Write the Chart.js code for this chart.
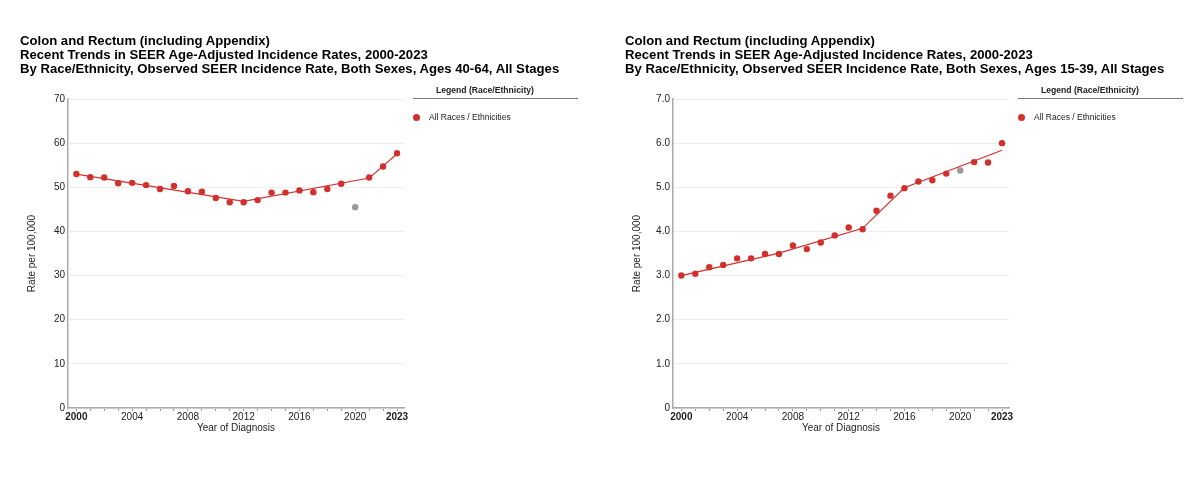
<!DOCTYPE html>
<html>
<head>
<meta charset="utf-8">
<script src="https://cdn.jsdelivr.net/npm/chart.js@4/dist/chart.umd.min.js"></script>
<style>
  html, body { margin: 0; padding: 0; background: #fff; overflow: hidden; }
  body { width: 1200px; height: 495px; position: relative; font-family: "Liberation Sans", Arial, Helvetica, sans-serif; }
  .panel { position: absolute; top: 0; width: 600px; height: 495px; }
  .panel canvas { position: absolute; left: 0; top: 0; }
  .title { position: absolute; left: 20px; top: 33.5px; font-size: 13.15px; line-height: 14px; font-weight: bold; color: #000; white-space: nowrap; }
  .legend-title { position: absolute; left: 436px; top: 84.5px; font-size: 8.6px; font-weight: bold; color: #222; white-space: nowrap; }
  .legend-rule { position: absolute; left: 413px; top: 98px; width: 165px; border-top: 1.5px solid #777; }
  .legend-item { position: absolute; left: 413px; top: 111.5px; font-size: 8.5px; color: #222; white-space: nowrap; }
  .legend-item .dot { display: inline-block; width: 7px; height: 7px; border-radius: 50%; background: #d1302c; vertical-align: -1px; margin-right: 9px; }
</style>
</head>
<body>

<div class="panel" style="left:0">
  <canvas id="chart4064"></canvas>
  <div class="title">Colon and Rectum (including Appendix)<br>Recent Trends in SEER Age-Adjusted Incidence Rates, 2000-2023<br>By Race/Ethnicity, Observed SEER Incidence Rate, Both Sexes, Ages 40-64, All Stages</div>
  <div class="legend-title">Legend (Race/Ethnicity)</div>
  <div class="legend-rule"></div>
  <div class="legend-item"><span class="dot"></span>All Races / Ethnicities</div>
</div>

<div class="panel" style="left:605px">
  <canvas id="chart1539"></canvas>
  <div class="title">Colon and Rectum (including Appendix)<br>Recent Trends in SEER Age-Adjusted Incidence Rates, 2000-2023<br>By Race/Ethnicity, Observed SEER Incidence Rate, Both Sexes, Ages 15-39, All Stages</div>
  <div class="legend-title">Legend (Race/Ethnicity)</div>
  <div class="legend-rule"></div>
  <div class="legend-item"><span class="dot"></span>All Races / Ethnicities</div>
</div>

<script>
const years = [2000, 2001, 2002, 2003, 2004, 2005, 2006, 2007, 2008, 2009, 2010, 2011,
               2012, 2013, 2014, 2015, 2016, 2017, 2018, 2019, 2020, 2021, 2022, 2023]

// Ages 40-64, observed rates per 100,000
const rates4064 = [53.0, 52.3, 52.2, 50.9, 51.0, 50.5, 49.6, 50.3, 49.1, 49.0, 47.6, 46.6,
                   46.6, 47.1, 48.8, 48.8, 49.3, 48.9, 49.6, 50.8, 45.5, 52.2, 54.7, 57.7]
// joinpoint trend line read at its bends
const trendYears4064 = [2000, 2012, 2021, 2022, 2023]
const trend4064 = [53.0, 46.8, 52.1, 54.8, 57.6]

// Ages 15-39
const rates1539 = [3.00, 3.04, 3.19, 3.24, 3.39, 3.39, 3.49, 3.49, 3.68, 3.60, 3.75, 3.91,
                   4.09, 4.05, 4.47, 4.81, 4.98, 5.13, 5.16, 5.31, 5.38, 5.57, 5.56, 6.00]
const trendYears1539 = [2000, 2007, 2013, 2016, 2023]
const trend1539 = [3.00, 3.51, 4.07, 4.99, 5.84]

// 2020 is shown but left out of the trend fit
const excludedYear = 2020

const xTickLabels = [2000, 2004, 2008, 2012, 2016, 2020, 2023]
const boldYears = [2000, 2023]
const yTicks4064 = [0, 10, 20, 30, 40, 50, 60, 70]
const yTicks1539 = [0, 1, 2, 3, 4, 5, 6, 7]

const RED = '#d1302c'
const GREY = '#9a9a9a'
const FONT = '"Liberation Sans", Arial, Helvetica, sans-serif'

function makeChart(id, rates, trendYears, trendValues, yTicks, formatY) {
  const ctx = document.getElementById(id).getContext('2d')

  return new Chart(ctx, {
    type: 'scatter',
    data: {
      datasets: [
        {
          label: 'Trend',
          type: 'line',
          data: trendYears.map((y, i) => ({ x: y, y: trendValues[i] })),
          borderColor: RED,
          borderWidth: 1.2,
          pointRadius: 0,
          fill: false,
          tension: 0
        },
        {
          label: 'All Races / Ethnicities',
          data: years.map((y, i) => ({ x: y, y: rates[i] })),
          pointRadius: 3.2,
          pointHoverRadius: 3.2,
          borderWidth: 0,
          backgroundColor: c => years[c.dataIndex] === excludedYear ? GREY : RED
        }
      ]
    },
    options: {
      responsive: false,
      animation: false,
      devicePixelRatio: 1,
      layout: { padding: { left: 0, right: 196, top: 99, bottom: 47 } },
      plugins: {
        legend: { display: false },
        tooltip: { enabled: false }
      },
      scales: {
        x: {
          type: 'linear',
          min: 1999.4,
          max: 2023.5,
          afterBuildTicks: scale => { scale.ticks = years.map(v => ({ value: v })) },
          afterFit: scale => { scale.height = 40 },
          border: { color: '#aaaaaa', width: 1.5 },
          grid: { drawOnChartArea: false, drawTicks: true, tickLength: 3, color: '#999999' },
          ticks: {
            autoSkip: false,
            maxRotation: 0,
            padding: 0,
            color: '#222',
            font: c => ({ family: FONT, size: 10, weight: boldYears.includes(c.tick && c.tick.value) ? 'bold' : 'normal' }),
            callback: v => xTickLabels.includes(v) ? String(v) : ''
          },
          title: {
            display: true,
            text: 'Year of Diagnosis',
            color: '#222',
            font: { family: FONT, size: 10 },
            padding: { top: 0, bottom: 14 }
          }
        },
        y: {
          min: 0,
          max: yTicks[yTicks.length - 1],
          afterBuildTicks: scale => { scale.ticks = yTicks.map(v => ({ value: v })) },
          afterFit: scale => { scale.width = 68 },
          border: { color: '#aaaaaa', width: 1.5 },
          grid: { color: '#eeeeee', lineWidth: 1, drawTicks: false },
          ticks: {
            padding: 3,
            color: '#222',
            font: { family: FONT, size: 10 },
            callback: formatY
          },
          title: {
            display: true,
            text: 'Rate per 100,000',
            color: '#222',
            font: { family: FONT, size: 10 },
            padding: { top: 26, bottom: 0 }
          }
        }
      }
    }
  })
}

function sizeCanvas(id) {
  const c = document.getElementById(id)
  c.width = 600
  c.height = 495
  c.style.width = '600px'
  c.style.height = '495px'
}

sizeCanvas('chart4064')
sizeCanvas('chart1539')

makeChart('chart4064', rates4064, trendYears4064, trend4064, yTicks4064, v => String(v))
makeChart('chart1539', rates1539, trendYears1539, trend1539, yTicks1539, v => v === 0 ? '0' : v.toFixed(1))
</script>
</body>
</html>
